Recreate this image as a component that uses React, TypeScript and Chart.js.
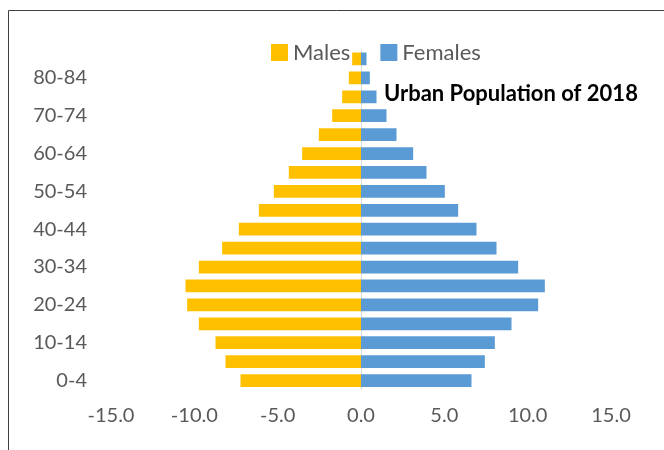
import React, { useEffect, useRef } from "react";
import { Chart, registerables } from "chart.js";

Chart.register(...registerables);

const categories = ["0-4", "5-9", "10-14", "15-19", "20-24", "25-29", "30-34", "35-39", "40-44", "45-49", "50-54", "55-59", "60-64", "65-69", "70-74", "75-79", "80-84", "85+"];
const males = [-7.2, -8.1, -8.7, -9.7, -10.4, -10.5, -9.7, -8.3, -7.3, -6.1, -5.2, -4.3, -3.5, -2.5, -1.7, -1.1, -0.7, -0.5];
const females = [6.6, 7.4, 8.0, 9.0, 10.6, 11.0, 9.4, 8.1, 6.9, 5.8, 5.0, 3.9, 3.1, 2.1, 1.5, 0.9, 0.5, 0.3];
const xTicks = [-15, -10, -5, 0, 5, 10, 15];
const TITLE = "Urban Population of 2018";

const FONT = "Lato, 'Open Sans', sans-serif";
const GREY = "#595959";

const overlayPlugin = {
  id: "overlay",
  afterDraw(chart: any) {
    const ctx = chart.ctx as CanvasRenderingContext2D;
    ctx.save();
    // frame (left and top edges)
    ctx.strokeStyle = "#404040";
    ctx.lineWidth = 1;
    ctx.beginPath();
    ctx.moveTo(8.5, chart.height);
    ctx.lineTo(8.5, 10.5);
    ctx.lineTo(chart.width, 10.5);
    ctx.stroke();

    // legend
    ctx.font = `22px ${FONT}`;
    ctx.textBaseline = "middle";
    ctx.textAlign = "left";
    let x = 271;
    const boxY = 44;
    const box = 17;
    chart.data.datasets.forEach((ds: any) => {
      ctx.fillStyle = ds.backgroundColor;
      ctx.fillRect(x, boxY, box, box);
      ctx.fillStyle = GREY;
      const tx = x + box + 5;
      ctx.fillText(ds.label, tx, boxY + box / 2);
      x = tx + ctx.measureText(ds.label).width + 30;
    });

    // title
    ctx.font = `bold 22px ${FONT}`;
    ctx.fillStyle = "#000000";
    ctx.fillText(TITLE, 384, 94);
    ctx.restore();
  },
};

export default function App() {
  const ref = useRef<HTMLCanvasElement>(null);

  useEffect(() => {
    if (!ref.current) return;
    const chart = new Chart(ref.current, {
      type: "bar",
      data: {
        labels: categories,
        datasets: [
          { label: "Males", data: males, backgroundColor: "#FFC000", borderWidth: 0, inflateAmount: 0.5 },
          { label: "Females", data: females, backgroundColor: "#5B9BD5", borderWidth: 0, inflateAmount: 0.5 },
        ],
      },
      options: {
        indexAxis: "y",
        animation: false,
        responsive: true,
        maintainAspectRatio: false,
        layout: { padding: { top: 49.5, right: 53, left: 0, bottom: 0 } },
        datasets: { bar: { categoryPercentage: 1, barPercentage: 0.62 } },
        plugins: {
          legend: { display: false },
          title: { display: false },
          tooltip: { enabled: false },
        },
        scales: {
          x: {
            stacked: true,
            min: -15,
            max: 15,
            afterBuildTicks: (scale: any) => {
              scale.ticks = xTicks.map((v) => ({ value: v }));
            },
            afterFit: (scale: any) => {
              scale.height = 60;
            },
            ticks: {
              font: { family: FONT, size: 20 },
              color: GREY,
              padding: 14,
              maxRotation: 0,
              callback: (v: any) => Number(v).toFixed(1),
            },
            grid: {
              drawTicks: false,
              color: (c: any) => (c.tick && c.tick.value === 0 ? "#d9d9d9" : "rgba(0,0,0,0)"),
            },
            border: { display: false },
          },
          y: {
            stacked: true,
            reverse: true,
            afterFit: (scale: any) => {
              scale.width = 111;
            },
            ticks: {
              autoSkip: false,
              font: { family: FONT, size: 20 },
              color: GREY,
              padding: 24,
              callback: (_v: any, i: number) => (i % 2 === 0 ? categories[i] : ""),
            },
            grid: { display: false, drawTicks: false },
            border: { display: false },
          },
        },
      },
      plugins: [overlayPlugin],
    });
    return () => chart.destroy();
  }, []);

  return (
    <div style={{ position: "fixed", left: 0, top: 0, width: 664, height: 450, background: "#fff" }}>
      <canvas ref={ref} />
    </div>
  );
}
